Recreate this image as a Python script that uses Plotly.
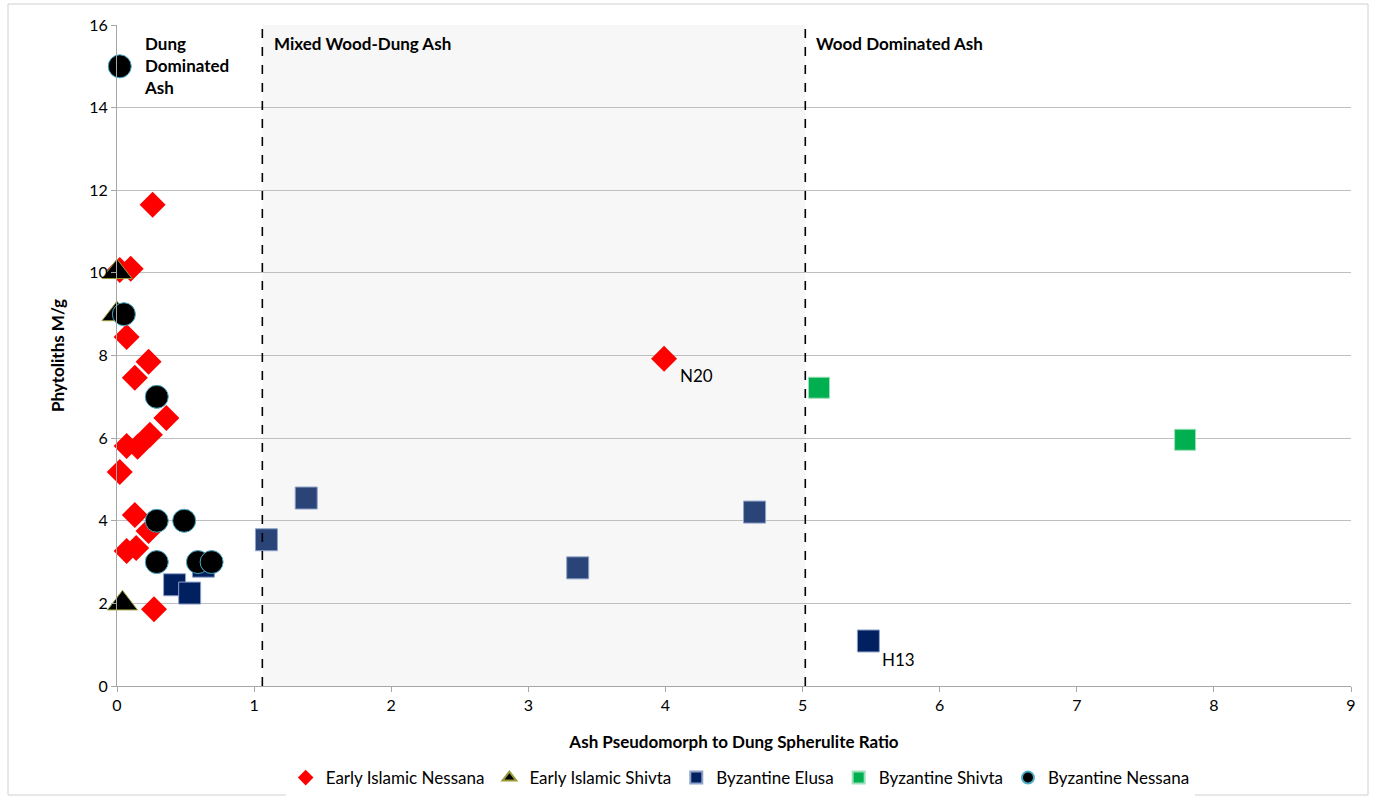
import plotly.graph_objects as go

# ---- data ----
ei_nessana_x = [0.26, 0.02, 0.10, 0.07, 0.13, 0.23, 0.36, 0.24, 0.07, 0.15, 0.02, 0.13, 0.23, 0.07, 0.14, 0.27, 3.99]
ei_nessana_y = [11.65, 10.07, 10.1, 8.45, 7.46, 7.85, 6.49, 6.08, 5.81, 5.79, 5.18, 4.14, 3.75, 3.27, 3.34, 1.86, 7.92]

ei_shivta_x = [0.0, 0.0, 0.04]
ei_shivta_y = [10.02, 9.0, 2.0]

elusa_x = [0.63, 0.42, 0.53, 1.09, 1.38, 3.36, 4.65, 5.48]
elusa_y = [2.9, 2.45, 2.25, 3.54, 4.55, 2.86, 4.21, 1.09]
elusa_col = ["#002060", "#002060", "#002060", "#2a4478", "#2a4478", "#2a4478", "#2a4478", "#002060"]

byz_shivta_x = [5.12, 7.79]
byz_shivta_y = [7.22, 5.96]

byz_nessana_x = [0.02, 0.05, 0.29, 0.29, 0.49, 0.29, 0.59, 0.69]
byz_nessana_y = [15.0, 9.0, 7.0, 4.0, 4.0, 3.0, 3.0, 3.0]

zone_bounds = [1.06, 5.02]
zone_labels = ["Dung<br>Dominated<br>Ash", "Mixed Wood-Dung Ash", "Wood Dominated Ash"]
zone_label_x = [0.18, 1.13, 5.08]

x_ticks = list(range(0, 10))
y_ticks = list(range(0, 17, 2))

TXT = "Lato, 'Open Sans', sans-serif"
TICK = "Lato, 'Open Sans', sans-serif"

fig = go.Figure()
fig.add_trace(go.Scatter(x=ei_nessana_x, y=ei_nessana_y, mode="markers", name="Early Islamic Nessana",
                         cliponaxis=False,
                         marker=dict(symbol="diamond", size=20, color="#FF0000", line=dict(width=0))))
fig.add_trace(go.Scatter(x=ei_shivta_x, y=ei_shivta_y, mode="markers", name="Early Islamic Shivta",
                         cliponaxis=False,
                         marker=dict(symbol="triangle-up", size=26, color="#000000", line=dict(width=1, color="#9a9a3a"))))
fig.add_trace(go.Scatter(x=elusa_x, y=elusa_y, mode="markers", name="Byzantine Elusa",
                         cliponaxis=False,
                         marker=dict(symbol="square", size=22, color=elusa_col, line=dict(width=1, color="#8fa2c8"))))
fig.add_trace(go.Scatter(x=byz_shivta_x, y=byz_shivta_y, mode="markers", name="Byzantine Shivta",
                         cliponaxis=False,
                         marker=dict(symbol="square", size=21, color="#00B050", line=dict(width=1, color="#9be0b8"))))
fig.add_trace(go.Scatter(x=byz_nessana_x, y=byz_nessana_y, mode="markers", name="Byzantine Nessana",
                         cliponaxis=False,
                         marker=dict(symbol="circle", size=23, color="#000000", line=dict(width=1, color="#4BACC6"))))

# shaded mixed zone
fig.add_shape(type="rect", xref="x", yref="y", x0=zone_bounds[0], x1=zone_bounds[1], y0=0, y1=16,
              fillcolor="#f7f7f7", line=dict(width=0), layer="below")
for b in zone_bounds:
    fig.add_shape(type="line", xref="x", yref="y", x0=b, x1=b, y0=0, y1=16,
                  line=dict(color="#000000", width=1.6, dash="dash"), layer="above")

for lx, lt in zip(zone_label_x, zone_labels):
    fig.add_annotation(x=lx, y=15.85, xref="x", yref="y", text="<b>" + lt + "</b>", showarrow=False,
                       xanchor="left", yanchor="top", align="left",
                       font=dict(family=TXT, size=17, color="#000000"))

fig.add_annotation(x=ei_nessana_x[-1], y=ei_nessana_y[-1], text="N20", showarrow=False, xref="x", yref="y",
                   xanchor="left", yanchor="top", xshift=14, yshift=-4, font=dict(family=TXT, size=17, color="#000"))
fig.add_annotation(x=elusa_x[-1], y=elusa_y[-1], text="H13", showarrow=False, xref="x", yref="y",
                   xanchor="left", yanchor="top", xshift=12, yshift=-6, font=dict(family=TXT, size=17, color="#000"))

# outer border
fig.add_shape(type="rect", xref="paper", yref="paper", x0=-109/1234, x1=1 + 17/1234,
              y0=-109/661, y1=1 + 21/661, line=dict(color="#d0d0d0", width=1), layer="below")

fig.update_xaxes(range=[0, 9], tickvals=x_ticks, showgrid=False, zeroline=False, automargin=False,
                 showline=True, linecolor="#a6a6a6", linewidth=1,
                 ticks="outside", ticklen=5, tickcolor="#a6a6a6",
                 tickfont=dict(family=TICK, size=16, color="#000"),
                 title=dict(text="<b>Ash Pseudomorph to Dung Spherulite Ratio</b>",
                            font=dict(family=TXT, size=17, color="#000"), standoff=22))
fig.update_yaxes(range=[0, 16], tickvals=y_ticks, showgrid=True, gridcolor="#bfbfbf", gridwidth=1,
                 zeroline=False, showline=True, linecolor="#a6a6a6", linewidth=1, automargin=False,
                 ticks="outside", ticklen=5, tickcolor="#a6a6a6",
                 tickfont=dict(family=TICK, size=16, color="#000"),
                 title=dict(text="<b>Phytoliths M/g</b>", font=dict(family=TXT, size=17, color="#000"),
                            standoff=20))

fig.update_layout(width=1376, height=805, margin=dict(l=117, r=25, t=25, b=119, autoexpand=False),
                  plot_bgcolor="#ffffff", paper_bgcolor="#ffffff",
                  legend=dict(orientation="h", x=0.505, y=-0.112, xanchor="center", yanchor="top",
                              font=dict(family=TXT, size=17, color="#000"), itemsizing="constant",
                              itemwidth=30, tracegroupgap=0),
                  showlegend=True)

fig.write_html("out.html")
